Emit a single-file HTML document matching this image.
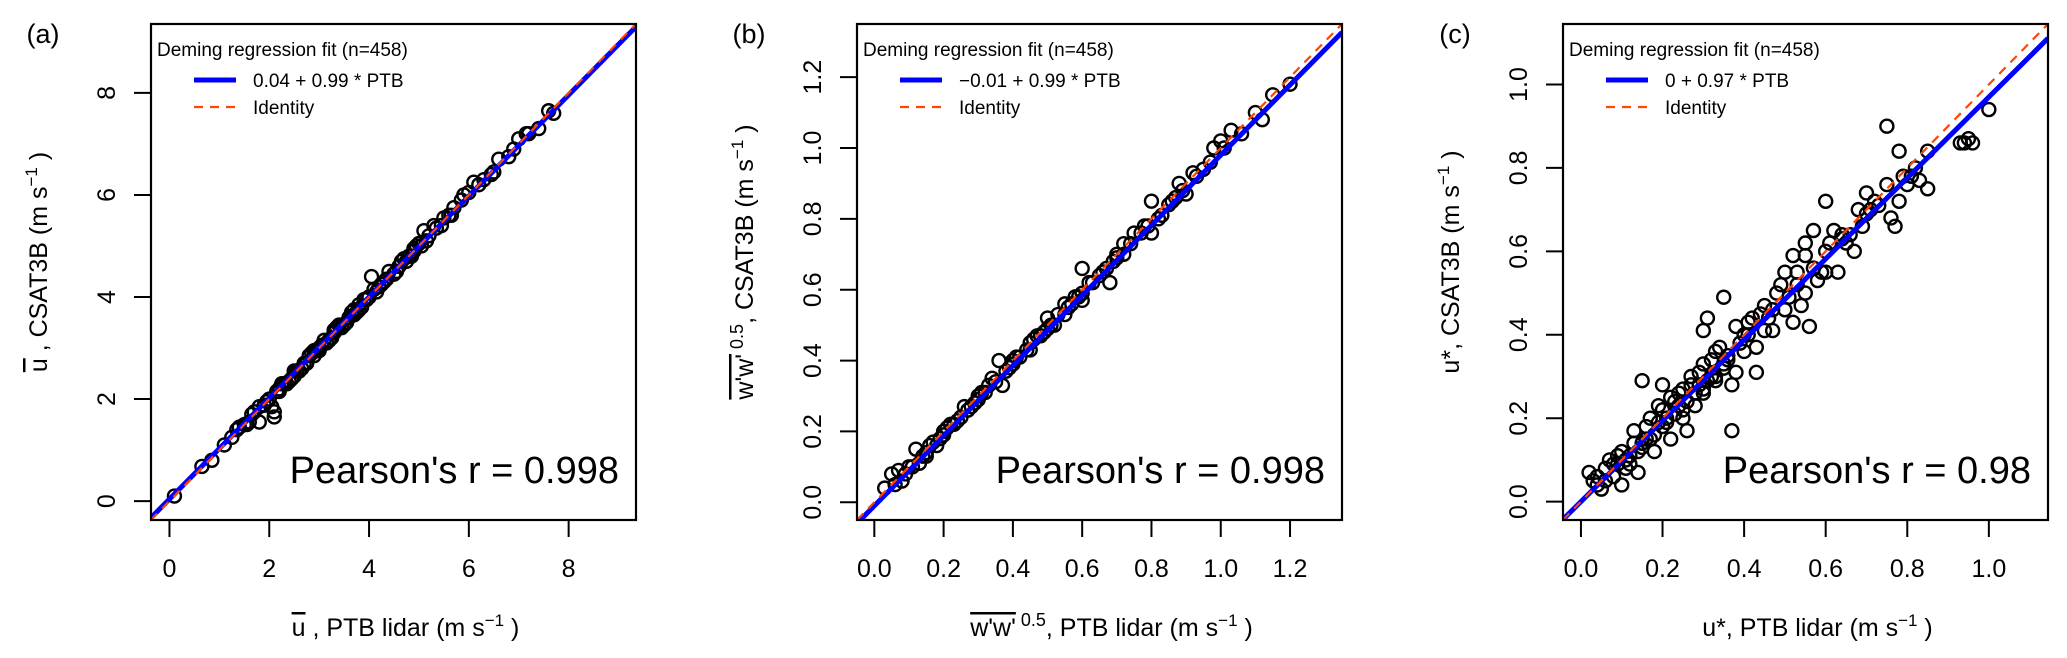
<!DOCTYPE html>
<html><head><meta charset="utf-8"><style>
html,body{margin:0;padding:0;background:#fff;}
svg{display:block;font-family:"Liberation Sans",Arial,sans-serif;}
</style></head><body>
<svg id="chart" width="2067" height="658" viewBox="0 0 2067 658" xmlns="http://www.w3.org/2000/svg"></svg>
<script>
// Panel (a): mean wind speed
const aX=[0.1,0.65,0.85,1.1,1.25,1.4,1.5,1.6,1.7,1.8,1.9,2.0,2.1,2.05,2.2,2.3,2.4,2.5,2.6,2.7,2.8,2.9,3.0,3.1,3.2,3.3,3.4,3.5,3.6,3.7,3.8,3.9,4.0,4.05,4.2,4.3,4.4,4.5,4.6,4.7,4.8,4.9,5.0,5.1,5.2,5.3,5.5,5.6,5.7,5.9,6.0,6.1,6.3,6.5,6.6,6.8,7.0,7.2,7.4,7.6,7.7,1.8,2.1,2.35,2.75,3.25,3.55,3.85,4.15,4.55,4.85,5.45,1.55,2.45,3.15,
 1.35,1.65,1.95,2.15,2.25,2.55,2.65,2.85,2.95,3.05,3.35,3.45,3.65,3.75,3.95,4.25,4.35,4.65,4.75,4.95,5.05,5.15,5.35,5.65,5.85,6.2,6.45,6.9,7.15,2.2,2.5,2.9,3.3,3.7,4.1,4.5,4.9,3.0,3.4,3.8];
const aY=[0.1,0.68,0.8,1.1,1.25,1.45,1.5,1.55,1.75,1.85,1.88,2.0,1.65,1.85,2.2,2.3,2.35,2.55,2.55,2.7,2.85,2.85,3.0,3.15,3.15,3.3,3.45,3.45,3.6,3.75,3.75,3.95,4.0,4.4,4.2,4.3,4.5,4.45,4.6,4.75,4.8,4.9,5.05,5.3,5.2,5.4,5.55,5.6,5.75,6.0,6.05,6.25,6.3,6.45,6.7,6.75,7.1,7.2,7.3,7.65,7.6,1.55,1.75,2.3,2.7,3.2,3.5,3.8,4.1,4.5,4.8,5.4,1.5,2.4,3.1,
 1.4,1.7,1.95,2.15,2.3,2.55,2.6,2.9,2.95,3.05,3.4,3.4,3.7,3.7,3.95,4.25,4.35,4.7,4.7,5.0,5.0,5.1,5.35,5.6,5.9,6.2,6.4,6.9,7.2,2.15,2.45,2.95,3.35,3.65,4.15,4.45,4.95,2.95,3.45,3.85];
const aTicks=[0,2,4,6,8];
const aTickLabels=["0","2","4","6","8"];
const aFit=[0.04,0.99];
// Panel (b): w'w'^0.5
const bX=[0.03,0.05,0.06,0.07,0.08,0.1,0.12,0.13,0.15,0.17,0.18,0.2,0.22,0.24,0.26,0.28,0.3,0.32,0.34,0.36,0.37,0.4,0.42,0.45,0.47,0.5,0.52,0.55,0.58,0.6,0.62,0.65,0.68,0.7,0.72,0.75,0.78,0.8,0.82,0.85,0.88,0.9,0.92,0.95,0.98,1.0,1.03,1.06,1.1,1.12,1.15,1.2,0.6,0.25,0.45,0.15,0.33,0.55,0.72,0.8,0.09,0.19,0.29,0.39,0.49,0.57,0.67,0.77,0.87,
 0.11,0.14,0.16,0.21,0.23,0.27,0.31,0.35,0.38,0.41,0.44,0.46,0.48,0.51,0.53,0.56,0.59,0.63,0.66,0.69,0.74,0.79,0.83,0.86,0.89,0.93,0.97,1.01,0.2,0.3,0.4,0.5,0.6,0.7];
const bY=[0.04,0.08,0.05,0.09,0.06,0.1,0.15,0.11,0.14,0.17,0.16,0.2,0.22,0.23,0.27,0.27,0.3,0.31,0.35,0.4,0.33,0.4,0.41,0.45,0.47,0.52,0.5,0.56,0.58,0.66,0.62,0.64,0.62,0.7,0.73,0.76,0.78,0.85,0.8,0.84,0.9,0.87,0.93,0.94,1.0,1.02,1.05,1.04,1.1,1.08,1.15,1.18,0.57,0.24,0.43,0.13,0.33,0.53,0.7,0.76,0.08,0.18,0.28,0.38,0.48,0.56,0.66,0.76,0.86,
 0.1,0.13,0.16,0.21,0.22,0.26,0.31,0.34,0.37,0.41,0.43,0.46,0.47,0.5,0.53,0.55,0.58,0.62,0.65,0.68,0.73,0.78,0.81,0.85,0.88,0.92,0.96,1.0,0.19,0.29,0.39,0.49,0.59,0.69];
const bTicks=[0,0.2,0.4,0.6,0.8,1.0,1.2];
const bTickLabels=["0.0","0.2","0.4","0.6","0.8","1.0","1.2"];
const bFit=[-0.01,0.99];
// Panel (c): friction velocity
const cX=[0.02,0.03,0.04,0.05,0.06,0.07,0.08,0.1,0.1,0.12,0.13,0.14,0.15,0.15,0.17,0.18,0.2,0.2,0.21,0.22,0.23,0.25,0.25,0.27,0.28,0.3,0.3,0.31,0.3,0.32,0.33,0.35,0.35,0.37,0.37,0.38,0.38,0.4,0.42,0.43,0.43,0.45,0.47,0.48,0.5,0.5,0.52,0.52,0.55,0.55,0.56,0.57,0.58,0.6,0.6,0.62,0.63,0.65,0.67,0.68,0.7,0.7,0.72,0.75,0.75,0.76,0.77,0.78,0.79,0.8,0.82,0.83,0.85,0.85,0.78,0.93,0.95,1.0,0.26,0.18,0.45,0.6,0.55,0.33,0.12,0.09,0.16,0.24,0.29,0.36,0.41,0.47,0.53,0.64,0.71,
 0.04,0.06,0.08,0.09,0.11,0.13,0.14,0.16,0.17,0.19,0.19,0.21,0.22,0.23,0.24,0.26,0.27,0.28,0.29,0.31,0.32,0.33,0.34,0.36,0.39,0.41,0.44,0.46,0.49,0.51,0.53,0.54,0.57,0.59,0.61,0.64,0.66,0.69,0.73,0.81,0.94,0.96,0.11,0.15,0.2,0.25,0.3,0.35,0.4];
const cY=[0.07,0.05,0.04,0.03,0.08,0.1,0.06,0.04,0.12,0.09,0.17,0.07,0.29,0.14,0.2,0.16,0.28,0.22,0.19,0.15,0.24,0.27,0.2,0.3,0.23,0.33,0.27,0.44,0.41,0.3,0.36,0.49,0.32,0.17,0.28,0.31,0.42,0.4,0.44,0.31,0.37,0.47,0.41,0.5,0.55,0.46,0.59,0.43,0.5,0.62,0.42,0.65,0.53,0.6,0.72,0.65,0.55,0.62,0.6,0.7,0.74,0.69,0.72,0.76,0.9,0.68,0.66,0.72,0.78,0.76,0.8,0.77,0.75,0.84,0.84,0.86,0.87,0.94,0.17,0.12,0.41,0.55,0.59,0.29,0.11,0.09,0.15,0.23,0.28,0.35,0.4,0.46,0.52,0.63,0.7,
 0.06,0.05,0.09,0.11,0.1,0.14,0.12,0.18,0.15,0.19,0.23,0.2,0.25,0.21,0.26,0.24,0.28,0.26,0.31,0.29,0.34,0.3,0.37,0.34,0.38,0.43,0.45,0.44,0.52,0.49,0.55,0.47,0.56,0.55,0.62,0.64,0.64,0.66,0.71,0.78,0.86,0.86,0.08,0.13,0.18,0.22,0.26,0.33,0.36];
const cTicks=[0,0.2,0.4,0.6,0.8,1.0];
const cTickLabels=["0.0","0.2","0.4","0.6","0.8","1.0"];
const cFit=[0,0.97];

const NS="http://www.w3.org/2000/svg";
const svg=document.getElementById('chart');
function mk(tag,attrs,parent){const e=document.createElementNS(NS,tag);for(const k in attrs)e.setAttribute(k,attrs[k]);(parent||svg).appendChild(e);return e;}

function panel(o){
  const L=o.left,R=o.left+485,T=24,B=520;
  const sx=v=>L+(v-o.min)/(o.max-o.min)*(R-L);
  const sy=v=>B-(v-o.min)/(o.max-o.min)*(B-T);
  const g=mk('g',{});
  
  
  const clip=mk('clipPath',{id:'clip'+o.id},g);
  mk('rect',{x:L,y:T,width:R-L,height:B-T},clip);
  const pg=mk('g',{'clip-path':'url(#clip'+o.id+')'},g);
  
  
  for(let i=0;i<o.xs.length;i++){
    const c=mk('circle',{cx:sx(o.xs[i]),cy:sy(o.ys[i]),r:6.5,fill:'none',stroke:'#000','stroke-width':2.4},pg);
    
    
  }
  const fl=mk('line',{x1:sx(o.min),y1:sy(o.fit[0]+o.fit[1]*o.min),x2:sx(o.max),y2:sy(o.fit[0]+o.fit[1]*o.max),stroke:'#0000ff','stroke-width':5},pg);
  
  
  const il=mk('line',{x1:sx(o.min),y1:sy(o.min),x2:sx(o.max),y2:sy(o.max),stroke:'#ff4500','stroke-width':2.2,'stroke-dasharray':'9 7'},pg);
  
  
  const bx=mk('rect',{x:L,y:T,width:R-L,height:B-T,fill:'none',stroke:'#000','stroke-width':2.2},g);
  
  
  for(let i=0;i<o.ticks.length;i++){
    const v=o.ticks[i];
    mk('line',{x1:sx(v),y1:B,x2:sx(v),y2:B+17,stroke:'#000','stroke-width':2},g);
    const t=mk('text',{x:sx(v),y:577,'font-size':25,'text-anchor':'middle'},g);
    t.textContent=o.labels[i];
    
    
    mk('line',{x1:L,y1:sy(v),x2:L-17,y2:sy(v),stroke:'#000','stroke-width':2},g);
    const ty=mk('text',{x:0,y:0,'font-size':25,'text-anchor':'middle',transform:'translate('+(L-36)+','+sy(v)+') rotate(-90)'},g);
    ty.textContent=o.labels[i];
    
    
  }
  const lg=mk('g',{},g);
  
  
  const lt=mk('text',{x:L+6,y:56,'font-size':19},lg);lt.textContent='Deming regression fit (n=458)';
  mk('line',{x1:L+43,y1:80,x2:L+85,y2:80,stroke:'#0000ff','stroke-width':5},lg);
  const l1=mk('text',{x:L+102,y:87,'font-size':19},lg);l1.textContent=o.fitLabel;
  
  
  mk('line',{x1:L+43,y1:107,x2:L+85,y2:107,stroke:'#ff4500','stroke-width':2.2,'stroke-dasharray':'9 7'},lg);
  const l2=mk('text',{x:L+102,y:114,'font-size':19},lg);l2.textContent='Identity';
  
  
  const p=mk('text',{x:R-17,y:483,'font-size':38,'text-anchor':'end'},g);
  p.textContent=o.pearson;
  
  
  const pl=mk('text',{x:L-108,y:43,'font-size':27,'text-anchor':'middle'},g);
  pl.textContent=o.tag;
  
  
  const xt=mk('text',{x:(L+R)/2+12,y:636,'font-size':25,'text-anchor':'middle'},g);
  xt.innerHTML=o.xTitle;
  
  
  const yt=mk('text',{x:0,y:0,'font-size':25,'text-anchor':'middle',transform:'translate('+(L-104)+',262) rotate(-90)'},g);
  yt.innerHTML=o.yTitle;
  
  
}
const unit='(m s<tspan dy="-10" font-size="17">−1</tspan><tspan dy="10"> )</tspan>';
const ubar='<tspan text-decoration="overline">u</tspan>';
const wbar='<tspan text-decoration="overline">w\'w\'</tspan><tspan dy="-10" font-size="18"> 0.5</tspan><tspan dy="10">';
panel({id:'a',name:'panel-a-mean-wind',tag:'(a)',left:151,min:-0.37,max:9.35,xs:aX,ys:aY,ticks:aTicks,labels:aTickLabels,fit:aFit,fitLabel:'0.04 + 0.99 * PTB',pearson:"Pearson's r = 0.998",
  xTitle:ubar+' , PTB lidar '+unit, yTitle:ubar+' , CSAT3B '+unit});
panel({id:'b',name:'panel-b-vertical-variance',tag:'(b)',left:857,min:-0.05,max:1.35,xs:bX,ys:bY,ticks:bTicks,labels:bTickLabels,fit:bFit,fitLabel:'−0.01 + 0.99 * PTB',pearson:"Pearson's r = 0.998",
  xTitle:wbar+', PTB lidar </tspan>'+unit, yTitle:wbar+', CSAT3B </tspan>'+unit});
panel({id:'c',name:'panel-c-friction-velocity',tag:'(c)',left:1563,min:-0.044,max:1.145,xs:cX,ys:cY,ticks:cTicks,labels:cTickLabels,fit:cFit,fitLabel:'0 + 0.97 * PTB',pearson:"Pearson's r = 0.98",
  xTitle:'u*, PTB lidar '+unit, yTitle:'u*, CSAT3B '+unit});
</script>
</body></html>
